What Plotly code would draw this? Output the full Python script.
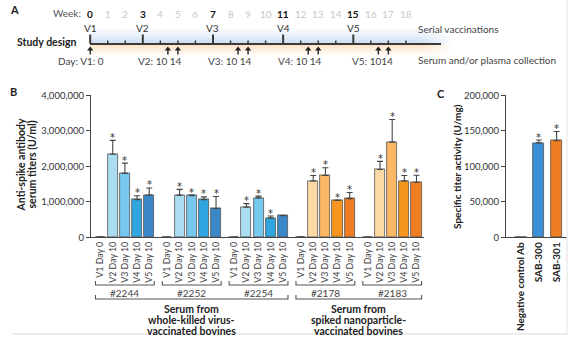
import plotly.graph_objects as go

W, H = 577, 343

# ---------------- data ----------------
# Panel A: study design
week_numbers = list(range(19))
vaccination_weeks = [0, 3, 7, 11, 15]
vaccination_labels = ["V1", "V2", "V3", "V4", "V5"]
collection_days = [[0], [10, 14], [10, 14], [10, 14], [10, 14]]
collection_labels = ["Day: V1: 0", "V2: 10 14", "V3: 10 14", "V4: 10 14", "V5: 1014"]

# Panel B: anti-spike antibody serum titers (U/ml)
groups = ["#2244", "#2252", "#2254", "#2178", "#2183"]
timepoints = ["V1 Day 0", "V2 Day 10", "V3 Day 10", "V4 Day 10", "V5 Day 10"]
titer_2244 = [12000, 2340000, 1800000, 1060000, 1190000]
titer_2252 = [6000, 1180000, 1170000, 1060000, 810000]
titer_2254 = [6000, 850000, 1110000, 540000, 610000]
titer_2178 = [12000, 1590000, 1740000, 1040000, 1090000]
titer_2183 = [6000, 1910000, 2680000, 1590000, 1550000]
err_2244 = [None, 390000, 290000, 110000, 200000]
err_2252 = [None, 170000, 20000, 80000, 340000]
err_2254 = [None, 100000, 50000, 60000, None]
err_2178 = [None, 150000, 220000, 10000, 170000]
err_2183 = [None, 230000, 640000, 150000, 200000]
star_2244 = [False, True, True, True, True]
star_2252 = [False, True, True, True, True]
star_2254 = [False, True, True, True, False]
star_2178 = [False, True, True, True, True]
star_2183 = [False, True, True, True, True]
titers = [titer_2244, titer_2252, titer_2254, titer_2178, titer_2183]
errors = [err_2244, err_2252, err_2254, err_2178, err_2183]
stars = [star_2244, star_2252, star_2254, star_2178, star_2183]
family_groups = [[0, 1, 2], [3, 4]]
family_lines = [["Serum from", "whole-killed virus-", "vaccinated bovines"],
                ["Serum from", "spiked nanoparticle-", "vaccinated bovines"]]
y_ticks_B = [0, 1000000, 2000000, 3000000, 4000000]

# Panel C: specific titer activity (U/mg)
products = ["Negative control Ab", "SAB-300", "SAB-301"]
activity = [0, 133000, 136000]
activity_err = [None, 4000, 13000]
activity_star = [False, True, True]
y_ticks_C = [0, 50000, 100000, 150000, 200000]

# ---------------- styles ----------------
FONT = "Lato"
blue_shades = ["#c9e9f7", "#aadcf2", "#76c8ee", "#2fa6e0", "#3a88c8"]
orange_shades = ["#fde3c0", "#fdd9a5", "#fbb764", "#f7961e", "#ef7d22"]
group_palette = [blue_shades, blue_shades, blue_shades, orange_shades, orange_shades]
product_colors = ["#ffffff", "#3b8fd4", "#ef7d22"]
AX = "#444444"


def fx(px):
    return px / W


def fy(py):
    return 1 - py / H


fig = go.Figure()
annotations = []
shapes = []

# ---------------- Panel A ----------------
wk0, wkpx = 90.2, 17.54  # pixel of week 0, pixels per week
xa_range = [-wk0 / wkpx, (W - wk0) / wkpx]
line_y = 44
line_end_week = 20

fig.add_trace(go.Scatter(
    x=[0, line_end_week + 0.6, line_end_week + 0.6, 0, 0],
    y=[28, 28, line_y, line_y, 28], mode="lines", fill="toself",
    line=dict(width=0), hoverinfo="skip", showlegend=False,
    fillgradient=dict(type="vertical", start=28, stop=line_y,
                      colorscale=[[0, "rgba(220,232,246,0.1)"], [1, "rgba(200,219,242,1)"]]),
    xaxis="x3", yaxis="y3"))
fig.add_trace(go.Scatter(
    x=[0, line_end_week + 0.6, line_end_week + 0.6, 0, 0],
    y=[line_y, line_y, 57, 57, line_y], mode="lines", fill="toself",
    line=dict(width=0), hoverinfo="skip", showlegend=False,
    fillgradient=dict(type="vertical", start=line_y, stop=57,
                      colorscale=[[0, "rgba(253,222,190,1)"], [1, "rgba(253,232,210,0)"]]),
    xaxis="x3", yaxis="y3"))
fig.add_trace(go.Scatter(
    x=[line_end_week - 1.2, line_end_week + 0.8, line_end_week + 0.8, line_end_week - 1.2, line_end_week - 1.2],
    y=[26, 26, 59, 59, 26], mode="lines", fill="toself",
    line=dict(width=0), hoverinfo="skip", showlegend=False,
    fillgradient=dict(type="horizontal", start=line_end_week - 1.2, stop=line_end_week + 0.8,
                      colorscale=[[0, "rgba(255,255,255,0)"], [1, "rgba(255,255,255,1)"]]),
    xaxis="x3", yaxis="y3"))

shapes.append(dict(type="line", xref="x3", yref="y3", x0=0, x1=line_end_week,
                   y0=line_y, y1=line_y, line=dict(color="#3a3a3a", width=2), layer="above"))
for w in week_numbers:
    major = w in vaccination_weeks
    shapes.append(dict(type="line", xref="x3", yref="y3", x0=w, x1=w,
                       y0=line_y, y1=line_y - (9.5 if major else 3.5),
                       line=dict(color="#3a3a3a", width=2 if major else 1.5), layer="above"))
    annotations.append(dict(xref="x3", yref="y3", x=w, y=13.5,
                            text=("<b>%d</b>" % w) if major else str(w), showarrow=False,
                            font=dict(family=FONT, size=10,
                                      color="#111111" if major else "#c8c8c8"),
                            xanchor="center", yanchor="middle"))
annotations.append(dict(xref="paper", yref="paper", x=fx(83), y=fy(13.5), text="Week:",
                        showarrow=False, xanchor="right", yanchor="middle",
                        font=dict(family=FONT, size=10, color="#555555")))
for vw, vl in zip(vaccination_weeks, vaccination_labels):
    annotations.append(dict(xref="x3", yref="y3", x=vw, y=27.5, text=vl, showarrow=False,
                            xanchor="center", yanchor="middle",
                            font=dict(family=FONT, size=10, color="#333333")))

arrow_x = []
for vw, days, lab in zip(vaccination_weeks, collection_days, collection_labels):
    for d in days:
        arrow_x.append(vw + d / 7)
        shapes.append(dict(type="line", xref="x3", yref="y3", x0=vw + d / 7, x1=vw + d / 7,
                           y0=49, y1=54.5, line=dict(color="#222222", width=1.4)))
    off = 0.9 if len(days) == 1 else 0.35
    annotations.append(dict(xref="x3", yref="y3", x=vw + days[-1] / 7 + off, y=60.5, text=lab,
                            showarrow=False, xanchor="right", yanchor="middle",
                            font=dict(family=FONT, size=10, color="#444444")))
fig.add_trace(go.Scatter(x=arrow_x, y=[49.2] * len(arrow_x), mode="markers",
                         marker=dict(symbol="triangle-up", size=5.5, color="#222222",
                                     line=dict(width=0)),
                         hoverinfo="skip", showlegend=False, xaxis="x3", yaxis="y3"))

annotations.append(dict(xref="paper", yref="paper", x=fx(15), y=fy(42), text="<b>Study design</b>",
                        showarrow=False, xanchor="left", yanchor="middle",
                        font=dict(family=FONT, size=10.5, color="#222222")))
annotations.append(dict(xref="paper", yref="paper", x=fx(416), y=fy(29), text="Serial vaccinations",
                        showarrow=False, xanchor="left", yanchor="middle",
                        font=dict(family=FONT, size=10, color="#444444")))
annotations.append(dict(xref="paper", yref="paper", x=fx(416), y=fy(60.5),
                        text="Serum and/or plasma collection",
                        showarrow=False, xanchor="left", yanchor="middle",
                        font=dict(family=FONT, size=10, color="#444444")))

# ---------------- Panel B ----------------
GAP = 5.5
slot_px, x0_px = 12.15, 100.6
b_left, b_right = 91, 424
xb_range = [(b_left - x0_px) / slot_px, (b_right - x0_px) / slot_px]
ydom = [fy(237.3), fy(95.3)]

tickvals_B, ticktext_B = [], []
for g, grp in enumerate(groups):
    xs = [g * GAP + i for i in range(len(timepoints))]
    tickvals_B += xs
    ticktext_B += timepoints
    errs = errors[g]
    fig.add_trace(go.Bar(
        x=xs, y=titers[g], width=0.83, showlegend=False,
        marker=dict(color=group_palette[g], line=dict(color="#555555", width=0.8)),
        error_y=dict(type="data", symmetric=False, array=errs,
                     arrayminus=[0 if e is not None else None for e in errs],
                     color="#444444", thickness=1.1, width=3),
        xaxis="x", yaxis="y"))
    for i, x in enumerate(xs):
        if stars[g][i]:
            top = titers[g][i] + (errs[i] or 0)
            annotations.append(dict(xref="x", yref="y", x=x, y=top, text="*", showarrow=False,
                                    xanchor="center", yanchor="middle", yshift=3,
                                    font=dict(family="DejaVu Sans", size=10, color="#333333")))
    xl, xr = g * GAP - 0.42, g * GAP + len(timepoints) - 1 + 0.42
    shapes.append(dict(type="path", xref="x", yref="paper",
                       path="M %f,%f L %f,%f L %f,%f L %f,%f" % (xl, fy(281), xl, fy(285),
                                                                 xr, fy(285), xr, fy(281)),
                       line=dict(color="#555555", width=1.1)))
    annotations.append(dict(xref="x", yref="paper", x=g * GAP + 2, y=fy(292.5), text=grp,
                            showarrow=False, xanchor="center", yanchor="middle",
                            font=dict(family=FONT, size=10, color="#444444")))

for fam, lines in zip(family_groups, family_lines):
    xl = fam[0] * GAP - 0.42
    xr = fam[-1] * GAP + len(timepoints) - 1 + 0.42
    shapes.append(dict(type="path", xref="x", yref="paper",
                       path="M %f,%f L %f,%f L %f,%f L %f,%f" % (xl, fy(295), xl, fy(299),
                                                                 xr, fy(299), xr, fy(295)),
                       line=dict(color="#555555", width=1.1)))
    for k, txt in enumerate(lines):
        annotations.append(dict(xref="x", yref="paper", x=(xl + xr) / 2, y=fy(309.3 + 10.7 * k),
                                text="<b>%s</b>" % txt, showarrow=False,
                                xanchor="center", yanchor="middle",
                                font=dict(family=FONT, size=10.5, color="#222222")))

annotations.append(dict(xref="paper", yref="paper", x=fx(20.5), y=fy(165),
                        text="<b>Anti-spike antibody</b>", textangle=-90, showarrow=False,
                        xanchor="center", yanchor="middle",
                        font=dict(family=FONT, size=10.5, color="#222222")))
annotations.append(dict(xref="paper", yref="paper", x=fx(31.5), y=fy(165),
                        text="<b>serum titers (U/ml)</b>", textangle=-90, showarrow=False,
                        xanchor="center", yanchor="middle",
                        font=dict(family=FONT, size=10.5, color="#222222")))

# ---------------- Panel C ----------------
c_left, c_right = 506, 567
c0_px, cslot = 521, 17.8
xc_range = [(c_left - c0_px) / cslot, (c_right - c0_px) / cslot]
xs_c = list(range(len(products)))
fig.add_trace(go.Bar(
    x=xs_c, y=activity, width=0.62, showlegend=False,
    marker=dict(color=product_colors, line=dict(color="#555555", width=0.8)),
    error_y=dict(type="data", symmetric=False, array=activity_err,
                 arrayminus=[0 if e is not None else None for e in activity_err],
                 color="#444444", thickness=1.1, width=3),
    xaxis="x2", yaxis="y2"))
for i, x in enumerate(xs_c):
    if activity_star[i]:
        annotations.append(dict(xref="x2", yref="y2", x=x, y=activity[i] + (activity_err[i] or 0),
                                text="*", showarrow=False, xanchor="center", yanchor="middle",
                                yshift=3, font=dict(family="DejaVu Sans", size=10, color="#333333")))
annotations.append(dict(xref="paper", yref="paper", x=fx(457), y=fy(167),
                        text="<b>Specific titer activity (U/mg)</b>", textangle=-90,
                        showarrow=False, xanchor="center", yanchor="middle",
                        font=dict(family=FONT, size=10, color="#222222")))

# panel letters
for lt, px, py in [("A", 14.5, 9), ("B", 13.5, 92), ("C", 441, 93)]:
    annotations.append(dict(xref="paper", yref="paper", x=fx(px), y=fy(py), text="<b>%s</b>" % lt,
                            showarrow=False, xanchor="center", yanchor="middle",
                            font=dict(family=FONT, size=11, color="#222222")))

# faint frame lines of the original figure crop
shapes.append(dict(type="line", xref="paper", yref="paper", x0=fx(12), x1=fx(567),
                   y0=fy(334), y1=fy(334), line=dict(color="#d9d9d9", width=1)))
shapes.append(dict(type="line", xref="paper", yref="paper", x0=fx(567), x1=fx(567),
                   y0=fy(0), y1=fy(334), line=dict(color="#e2e2e2", width=1)))

axis_common = dict(showgrid=False, zeroline=False, showline=True, linecolor=AX, linewidth=1,
                   automargin=False, fixedrange=True)

fig.update_layout(
    width=W, height=H, margin=dict(l=0, r=0, t=0, b=0),
    template="none", paper_bgcolor="white", plot_bgcolor="rgba(0,0,0,0)",
    font=dict(family=FONT, color="#333333"),
    showlegend=False, bargap=0,
    xaxis=dict(domain=[fx(b_left), fx(b_right)], range=xb_range, anchor="y",
               tickmode="array", tickvals=tickvals_B, ticktext=ticktext_B, tickangle=-90,
               ticks="", tickfont=dict(family=FONT, size=8.8, color="#444444"), **axis_common),
    yaxis=dict(domain=ydom, range=[0, 4000000], anchor="x", tickmode="array",
               tickvals=y_ticks_B, tickformat=",", ticks="outside", ticklen=4, tickcolor=AX,
               tickfont=dict(family=FONT, size=9.5, color="#333333"), **axis_common),
    xaxis2=dict(domain=[fx(c_left), fx(c_right)], range=xc_range, anchor="y2",
                tickmode="array", tickvals=xs_c, ticktext=["<b>%s</b>" % p for p in products],
                tickangle=-90, ticks="", tickfont=dict(family=FONT, size=10, color="#222222"),
                **axis_common),
    yaxis2=dict(domain=ydom, range=[0, 200000], anchor="x2", tickmode="array",
                tickvals=y_ticks_C, tickformat=",", ticks="outside", ticklen=4, tickcolor=AX,
                tickfont=dict(family=FONT, size=9.5, color="#333333"), **axis_common),
    xaxis3=dict(domain=[0, 1], range=xa_range, anchor="y3", visible=False, fixedrange=True),
    yaxis3=dict(domain=[0, 1], range=[H, 0], anchor="x3", visible=False, fixedrange=True),
    annotations=annotations, shapes=shapes,
)

fig.write_html("out.html")
